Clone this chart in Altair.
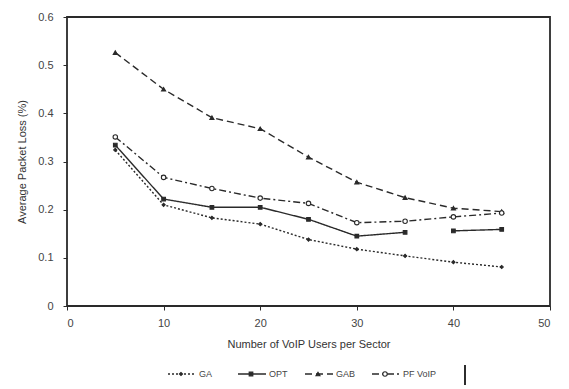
import altair as alt
import pandas as pd

# Number of VoIP users per sector (x) and average packet loss (%) per scheme
users = [5, 10, 15, 20, 25, 30, 35, 40, 45]
series_names = ["GA", "OPT", "GAB", "PF VoIP"]
ga_loss = [0.324, 0.210, 0.183, 0.170, 0.138, 0.118, 0.104, 0.091, 0.081]
opt_loss = [0.334, 0.222, 0.205, 0.205, 0.180, 0.145, 0.153, 0.156, 0.159]
gab_loss = [0.526, 0.450, 0.391, 0.368, 0.309, 0.257, 0.225, 0.203, 0.196]
pf_loss = [0.351, 0.267, 0.244, 0.224, 0.213, 0.173, 0.176, 0.185, 0.193]
# the OPT curve is broken between 35 and 40 users
opt_segment = [0, 0, 0, 0, 0, 0, 0, 1, 1]

y_ticks = [0, 0.1, 0.2, 0.3, 0.4, 0.5, 0.6]
x_ticks = [0, 10, 20, 30, 40, 50]

rows = []
for name, vals in zip(series_names, [ga_loss, opt_loss, gab_loss, pf_loss]):
    for i, (u, v) in enumerate(zip(users, vals)):
        seg = opt_segment[i] if name == "OPT" else 0
        rows.append({"series": name, "users": u, "loss": v, "seg": f"{name}-{seg}"})
df = pd.DataFrame(rows)

INK = "#2a2a2a"
FONT = "Liberation Sans"

dash_scale = alt.Scale(domain=series_names,
                       range=[[2, 2], [1, 0], [7, 4], [7, 3, 2, 3]])
shape_scale = alt.Scale(domain=series_names,
                        range=["diamond", "square", "triangle-up", "circle"])
size_scale = alt.Scale(domain=series_names, range=[10, 20, 16, 12])
fill_scale = alt.Scale(domain=series_names, range=[INK, INK, INK, "white"])

x_enc = alt.X("users:Q", title="Number of VoIP Users per Sector",
              scale=alt.Scale(domain=[0, 50], nice=False),
              axis=alt.Axis(values=x_ticks, grid=False, domain=False,
                            tickSize=4, tickColor=INK, labelPadding=7,
                            titlePadding=10))
y_enc = alt.Y("loss:Q", title="Average Packet Loss (%)",
              scale=alt.Scale(domain=[0, 0.6], nice=False),
              axis=alt.Axis(values=y_ticks, grid=False, domain=False,
                            tickSize=4, tickColor=INK, labelPadding=10,
                            titlePadding=10,
                            labelExpr="datum.value == 0 ? '0' : format(datum.value, '.1f')"))

lines = alt.Chart(df).mark_line(color=INK, strokeWidth=1.4).encode(
    x=x_enc, y=y_enc,
    strokeDash=alt.StrokeDash("series:N", scale=dash_scale, legend=None),
    detail="seg:N",
)
points = alt.Chart(df).mark_point(color=INK, filled=False, strokeWidth=1.1, opacity=1).encode(
    x="users:Q", y="loss:Q",
    shape=alt.Shape("series:N", scale=shape_scale, legend=None),
    size=alt.Size("series:N", scale=size_scale, legend=None),
    fill=alt.Fill("series:N", scale=fill_scale, legend=None),
)

# hand-laid legend row below the axis title
leg_x = [101, 171, 238, 305]
leg = pd.DataFrame({
    "series": series_names,
    "x0": [v for v in leg_x],
    "x1": [v + 28 for v in leg_x],
    "xm": [v + 13 for v in leg_x],
    "xt": [v + 31 for v in leg_x],
})
leg_y = 357
leg_rule = alt.Chart(leg).mark_rule(color=INK, strokeWidth=1.3).encode(
    x=alt.X("x0:Q", scale=None, axis=None), x2="x1:Q",
    y=alt.value(leg_y),
    strokeDash=alt.StrokeDash("series:N", scale=dash_scale, legend=None),
)
leg_pt = alt.Chart(leg).mark_point(color=INK, filled=False, strokeWidth=1.1, opacity=1).encode(
    x=alt.X("xm:Q", scale=None, axis=None), y=alt.value(leg_y),
    shape=alt.Shape("series:N", scale=shape_scale, legend=None),
    size=alt.Size("series:N", scale=size_scale, legend=None),
    fill=alt.Fill("series:N", scale=fill_scale, legend=None),
)
leg_txt = alt.Chart(leg).mark_text(align="left", baseline="middle", font=FONT,
                                   fontSize=9, color="#444").encode(
    x=alt.X("xt:Q", scale=None, axis=None), y=alt.value(leg_y), text="series:N",
)
# right edge of the legend box
leg_edge = alt.Chart(leg).mark_rule(color=INK, strokeWidth=1.3).encode(
    x=alt.value(398), y=alt.value(348), y2=alt.value(368),
)

chart = alt.layer(lines, points, leg_rule, leg_pt, leg_txt, leg_edge).properties(
    width=483, height=289,
    autosize=alt.AutoSizeParams(type="none"),
    padding={"left": 67, "top": 17, "right": 19, "bottom": 83},
    background="white",
).configure_view(
    stroke=INK, strokeWidth=1.8,
).configure_axis(
    labelFont=FONT, titleFont=FONT, labelFontSize=11, titleFontSize=11,
    labelColor="#444", titleColor="#333", titleFontWeight="normal",
)

chart.save("out.html", embed_options={"renderer": "svg", "actions": False})
